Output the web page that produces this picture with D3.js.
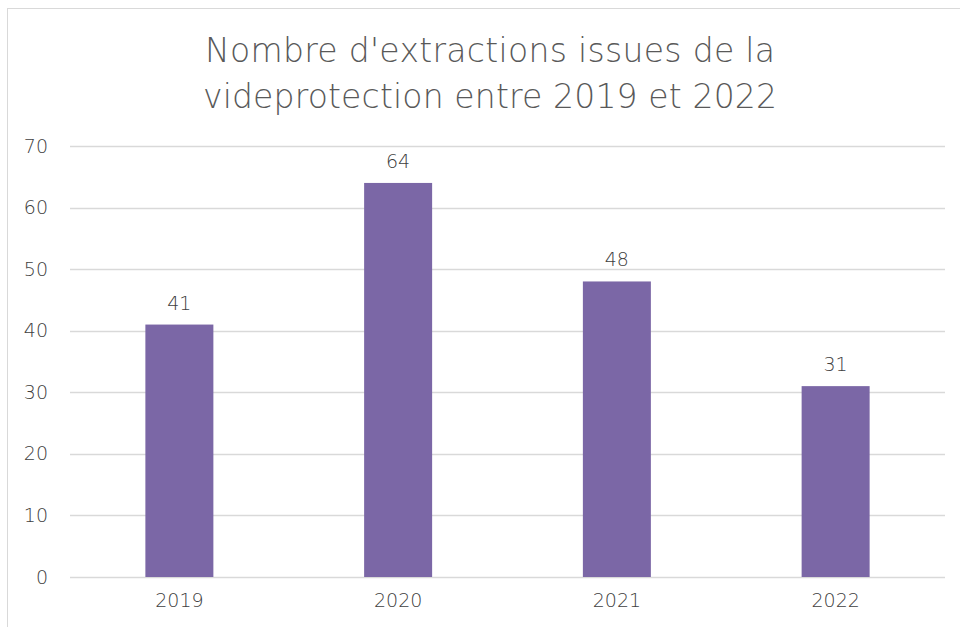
<!DOCTYPE html>
<html>
<head>
<meta charset="utf-8">
<script src="https://cdn.jsdelivr.net/npm/d3@7"></script>
<style>
  body { margin: 0; background: #fff; }
  svg { display: block; font-family: "DejaVu Sans", sans-serif; }
</style>
</head>
<body>
<svg id="chart" width="960" height="627"></svg>
<script>
var years = ["2019", "2020", "2021", "2022"];
var counts = [41, 64, 48, 31];
var yTicks = [0, 10, 20, 30, 40, 50, 60, 70];
var titleLines = ["Nombre d'extractions issues de la", "videprotection entre 2019 et 2022"];

var svg = d3.select("#chart");
var textColor = "#595959";
var labelColor = "#404040";

// chart frame
svg.append("rect")
    .attr("x", 7.5).attr("y", 8.5)
    .attr("width", 970).attr("height", 640)
    .style("fill", "none")
    .style("stroke", "#d9d9d9");

// plot area (avoid "top", it is window.top)
var plotL = 70, plotR = 945, plotT = 146, plotB = 577;

var x = d3.scaleBand().domain(years).range([plotL, plotR]);
var y = d3.scaleLinear().domain([0, 70]).range([plotB, plotT]);
var barW = 68;

// title
svg.selectAll(".title")
    .data(titleLines)
  .enter().append("text")
    .attr("class", "title")
    .attr("x", 490)
    .attr("y", function(d, i){ return 62 + i*46; })
    .attr("text-anchor", "middle")
    .attr("textLength", function(d, i){ return i == 0 ? 570 : 574; })
    .style("font-size", "33px")
    .style("font-weight", 200)
    .style("fill", textColor)
    .text(function(d){ return d; });

// gridlines
svg.append("g")
  .selectAll("line")
    .data(yTicks)
  .enter().append("line")
    .attr("x1", plotL).attr("x2", plotR)
    .attr("y1", function(d){ return Math.round(y(d)) + 0.5; })
    .attr("y2", function(d){ return Math.round(y(d)) + 0.5; })
    .style("stroke", "#d9d9d9")
    .style("stroke-width", 1.3);

// y axis labels
var yAxis = d3.axisLeft(y).tickValues(yTicks).tickSize(0).tickPadding(22);
var gy = svg.append("g").attr("transform", "translate(" + plotL + ",0)").call(yAxis);
gy.select(".domain").remove();
gy.selectAll("text")
    .style("font-size", "19px")
    .style("font-weight", 200)
    .style("font-family", "DejaVu Sans, sans-serif")
    .style("fill", labelColor);

// x axis labels
var xAxis = d3.axisBottom(x).tickSize(0).tickPadding(17);
var gx = svg.append("g").attr("transform", "translate(0," + plotB + ")").call(xAxis);
gx.select(".domain").remove();
gx.selectAll("text")
    .style("font-size", "19px")
    .style("font-weight", 200)
    .style("font-family", "DejaVu Sans, sans-serif")
    .style("fill", labelColor);

// bars
svg.selectAll(".bar")
    .data(counts)
  .enter().append("rect")
    .attr("class", "bar")
    .attr("x", function(d, i){ return x(years[i]) + x.bandwidth()/2 - barW/2; })
    .attr("y", function(d){ return y(d); })
    .attr("width", barW)
    .attr("height", function(d){ return plotB - y(d); })
    .style("fill", "#7b67a6");

// value labels
svg.selectAll(".val")
    .data(counts)
  .enter().append("text")
    .attr("class", "val")
    .attr("x", function(d, i){ return x(years[i]) + x.bandwidth()/2; })
    .attr("y", function(d){ return y(d) - 15; })
    .attr("text-anchor", "middle")
    .style("font-size", "19px")
    .style("font-weight", 200)
    .style("fill", labelColor)
    .text(function(d){ return d; });
</script>
</body>
</html>
